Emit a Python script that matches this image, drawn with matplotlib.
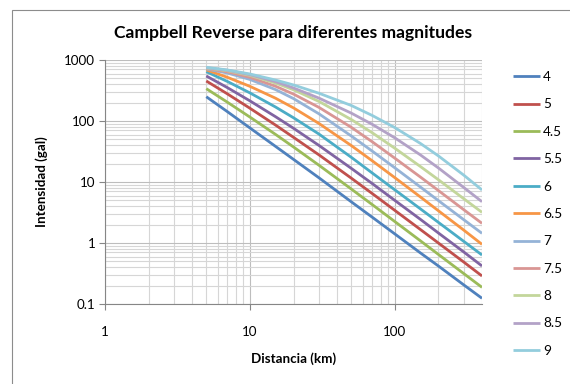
import matplotlib
matplotlib.use("Agg")
import matplotlib.pyplot as plt
from matplotlib.patches import Rectangle
from matplotlib.ticker import LogLocator, FixedLocator, FuncFormatter, NullFormatter

plt.rcParams['font.family'] = ['Lato', 'DejaVu Sans']

# Distance (km) at which each curve is sampled
distancia = [5, 7, 10, 15, 20, 30, 50, 70, 100, 150, 200, 300, 400]

# Peak intensity (gal) per magnitude, in the series order of the legend
magnitudes = ["4", "5", "4.5", "5.5", "6", "6.5", "7", "7.5", "8", "8.5", "9"]
int_m4 = [250, 142, 77, 38.5, 23.5, 11.7, 4.75, 2.64, 1.41, 0.69, 0.42, 0.205, 0.124]
int_m5 = [453, 278, 162, 86, 54, 27.8, 11.6, 6.45, 3.43, 1.67, 1.0, 0.485, 0.288]
int_m45 = [339, 203, 116, 60.5, 37.5, 18.8, 7.7, 4.25, 2.25, 1.09, 0.65, 0.314, 0.1875]
int_m55 = [547, 352, 214, 118, 76, 39.7, 16.8, 9.4, 5.0, 2.45, 1.46, 0.71, 0.42]
int_m6 = [643, 444, 289, 170, 113, 61, 25.5, 14.0, 7.45, 3.64, 2.18, 1.06, 0.635]
int_m65 = [690, 520, 370, 237, 164, 91, 39.7, 22.2, 11.8, 5.7, 3.38, 1.62, 0.95]
int_m7 = [712, 612, 480, 328, 233, 131, 57, 32, 17.1, 8.3, 4.96, 2.40, 1.44]
int_m75 = [728, 642, 520, 372, 276, 167, 79, 45.5, 24.6, 12.1, 7.25, 3.5, 2.1]
int_m8 = [738, 666, 559, 420, 325, 209, 106, 64, 35.8, 18.0, 10.9, 5.3, 3.18]
int_m85 = [748, 680, 576, 442, 348, 237, 135, 88, 53, 27.9, 17.0, 8.1, 4.75]
int_m9 = [760, 686, 590, 470, 390, 285, 180, 123, 78, 43, 26.8, 12.9, 7.4]

series = [int_m4, int_m5, int_m45, int_m55, int_m6, int_m65,
          int_m7, int_m75, int_m8, int_m85, int_m9]
colores = ["#4F81BD", "#C0504D", "#9BBB59", "#8064A2", "#4BACC6", "#F79646",
           "#95B3D7", "#D99694", "#C3D69B", "#B3A2C7", "#93CDDD"]

W, H = 570, 384
fig = plt.figure(figsize=(W / 100, H / 100), dpi=100)

# chart-area frame
fig.patches.append(Rectangle((12 / W, -0.05), 1.0, (H - 10) / H + 0.05,
                             transform=fig.transFigure, fill=False,
                             edgecolor="#8c8c8c", linewidth=0.8))

ax = fig.add_axes([105 / W, (H - 304) / H, (482 - 105) / W, (304 - 60) / H])
ax.set_xscale("log")
ax.set_yscale("log")
ax.set_xlim(1, 400)
ax.set_ylim(0.1, 1000)

for vals, color, lab in zip(series, colores, magnitudes):
    ax.plot(distancia, vals, color=color, linewidth=2.0, label=lab,
            solid_capstyle="butt", solid_joinstyle="round")

ax.xaxis.set_major_locator(FixedLocator([1, 10, 100]))
ax.xaxis.set_minor_locator(LogLocator(base=10, subs=range(2, 10), numticks=20))
ax.yaxis.set_major_locator(FixedLocator([0.1, 1, 10, 100, 1000]))
ax.yaxis.set_minor_locator(LogLocator(base=10, subs=range(2, 10), numticks=20))
fmt = FuncFormatter(lambda v, p: f"{v:g}")
ax.xaxis.set_major_formatter(fmt)
ax.yaxis.set_major_formatter(fmt)
ax.xaxis.set_minor_formatter(NullFormatter())
ax.yaxis.set_minor_formatter(NullFormatter())

ax.grid(True, which="major", color="#bdbdbd", linewidth=0.8)
ax.grid(True, which="minor", color="#d6d6d6", linewidth=0.8)
ax.set_axisbelow(True)

for s in ("top", "right"):
    ax.spines[s].set_visible(False)
for s in ("left", "bottom"):
    ax.spines[s].set_color("#868686")
    ax.spines[s].set_linewidth(0.8)

ax.tick_params(which="major", length=4, color="#868686", labelsize=9.6,
               labelcolor="black", pad=3)
ax.tick_params(which="minor", length=0)
ax.tick_params(axis="x", pad=11.5)

ax.set_title("Campbell Reverse para diferentes magnitudes", fontsize=12.6,
             fontweight="bold", pad=16)
ax.set_xlabel("Distancia (km)", fontsize=9.6, fontweight="bold", labelpad=11)
ax.set_ylabel("Intensidad (gal)", fontsize=9.6, fontweight="bold", labelpad=12)

fig.legend(loc="upper left", bbox_to_anchor=(513 / W, (H - 71) / H),
           frameon=False, fontsize=9.8, handlelength=2.0, handletextpad=0.2,
           labelspacing=1.13, borderaxespad=0, borderpad=0)

fig.savefig("out.png", dpi=100)
